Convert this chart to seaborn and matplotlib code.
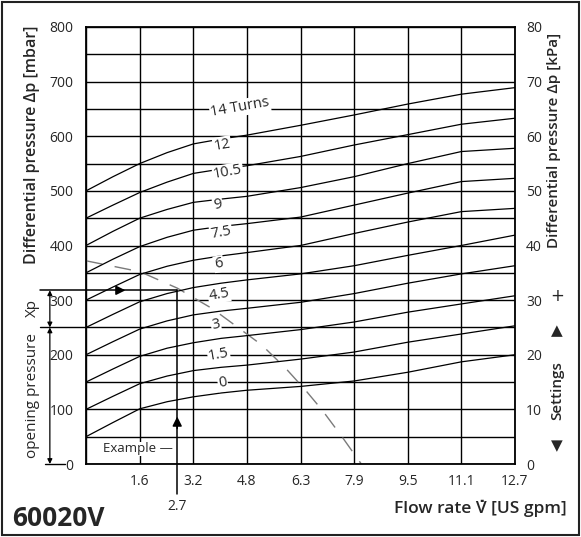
import pandas as pd
import matplotlib.pyplot as plt
import seaborn as sns

flow = [0, 0.8, 1.59, 2.4, 3.18, 4.0, 4.76, 6.35, 7.94, 9.53, 11.11, 12.7]

# differential pressure (mbar) per setting (turns)
dp_14 = [500, 526, 550, 570, 586, 595, 602, 620, 639, 659, 677, 689]
dp_12 = [450, 474, 497, 516, 532, 540, 546, 563, 584, 603, 622, 633]
dp_10_5 = [400, 426, 450, 466, 479, 485, 490, 506, 526, 550, 572, 578]
dp_9 = [350, 375, 398, 415, 428, 435, 440, 452, 474, 496, 517, 523]
dp_7_5 = [300, 324, 347, 362, 373, 381, 387, 400, 422, 443, 462, 468]
dp_6 = [250, 274, 297, 312, 323, 331, 337, 348, 363, 382, 400, 419]
dp_4_5 = [200, 224, 247, 262, 273, 280, 285, 296, 312, 331, 348, 363]
dp_3 = [150, 174, 197, 212, 222, 230, 235, 246, 260, 278, 293, 308]
dp_1_5 = [100, 124, 147, 161, 171, 177, 181, 192, 205, 223, 238, 253]
dp_0 = [50, 76, 101, 114, 123, 130, 135, 142, 152, 168, 187, 200]

settings = ["14", "12", "10.5", "9", "7.5", "6", "4.5", "3", "1.5", "0"]
curve_values = [dp_14, dp_12, dp_10_5, dp_9, dp_7_5, dp_6, dp_4_5, dp_3, dp_1_5, dp_0]
curve_labels = ["14 Turns", "12", "10.5", "9", "7.5", "6", "4.5", "3", "1.5", "0"]

# dashed system curve
sys_flow = [0, 1.6, 2.7, 3.75, 5.2, 5.9, 6.5, 7.0, 7.6, 8.15]
sys_dp = [372, 352, 322, 284, 218, 176, 135, 98, 48, 0]

# example reading
example_flow = 2.7
example_xp = 318
opening_pressure = 250

x_ticks = [12.7 * k / 8 for k in range(9)]
x_ticklabels = ["", "1.6", "3.2", "4.8", "6.3", "7.9", "9.5", "11.1", "12.7"]

# label placement (layout only)
label_x = [4.56, 4.03, 4.2, 3.9, 4.0, 3.93, 3.94, 3.85, 3.93, 4.05]
label_y = [652, 584, 534, 474, 423, 366, 310, 254, 200, 148]

sns.set_style("white")
plt.rcParams["font.family"] = ["Open Sans", "DejaVu Sans"]

W, H = 581, 537
fig = plt.figure(figsize=(W / 100, H / 100), dpi=100)
ax = fig.add_axes([86 / W, 1 - 464 / H, (515 - 86) / W, (464 - 27) / H])

df = pd.DataFrame({
    "flow": flow * len(settings),
    "dp": [v for vals in curve_values for v in vals],
    "setting": [s for s in settings for _ in flow],
})
sns.lineplot(data=df, x="flow", y="dp", hue="setting", palette={s: "black" for s in settings},
             legend=False, sort=False, lw=0.9, ax=ax, zorder=3)
sns.lineplot(x=sys_flow, y=sys_dp, color="#7a7a7a", lw=1.0, dashes=False,
             linestyle=(0, (12, 9)), ax=ax, zorder=2)

ax.set_xlim(0, 12.7)
ax.set_ylim(0, 800)
ax.set_xticks(x_ticks)
ax.set_xticklabels(x_ticklabels, fontsize=10)
ax.set_yticks(range(0, 801, 100))
ax.set_yticks(range(50, 800, 100), minor=True)
ax.set_yticklabels([str(v) for v in range(0, 801, 100)], fontsize=10)
ax.grid(True, which="both", color="black", lw=1.0)
ax.tick_params(axis="x", length=4, width=1, color="black", pad=3)
ax.tick_params(axis="y", which="both", length=0, pad=9)
ax.set_xlabel("")
ax.set_ylabel("")
for sp in ax.spines.values():
    sp.set_color("black")
    sp.set_linewidth(1.3)

ax2 = ax.twinx()
ax2.set_ylim(0, 80)
ax2.set_yticks(range(0, 81, 10))
ax2.set_yticklabels([str(v) for v in range(0, 81, 10)], fontsize=10)
ax2.tick_params(axis="y", length=0, pad=8)
for sp in ax2.spines.values():
    sp.set_visible(False)

# curve labels
for txt, lx, ly in zip(curve_labels, label_x, label_y):
    ax.text(lx, ly, txt, fontsize=10.5, rotation=10, ha="center", va="center", zorder=4,
            bbox=dict(facecolor="white", edgecolor="none", pad=0.6))

# example construction
ax.plot([example_flow, example_flow], [-55, example_xp], color="black", lw=1.1, clip_on=False, zorder=4)
ax.plot([-1.36, example_flow], [example_xp, example_xp], color="black", lw=1.1, clip_on=False, zorder=4)
ax.annotate("", xy=(example_flow, 92), xytext=(example_flow, 60),
            arrowprops=dict(arrowstyle="-|>", color="black", lw=1.1, mutation_scale=14), zorder=5)
ax.annotate("", xy=(1.25, example_xp), xytext=(0.85, example_xp),
            arrowprops=dict(arrowstyle="-|>", color="black", lw=1.1, mutation_scale=14), zorder=5)
ax.text(2.58, 28, "Example \u2014", fontsize=9.5, ha="right", va="center", zorder=5,
        bbox=dict(facecolor="white", edgecolor="none", pad=0.5))
ax.text(example_flow, -78, "2.7", fontsize=10, ha="center", va="center", clip_on=False)

# opening pressure / Xp dimensions
ax.plot([-1.36, 0], [opening_pressure, opening_pressure], color="black", lw=1.0, clip_on=False)
ax.plot([-1.22, -0.62], [0, 0], color="black", lw=1.0, clip_on=False)
ax.annotate("", xy=(-1.07, 0), xytext=(-1.07, opening_pressure), annotation_clip=False,
            arrowprops=dict(arrowstyle="<|-|>", color="black", lw=0.9, mutation_scale=7, shrinkA=0, shrinkB=0))
ax.annotate("", xy=(-1.07, opening_pressure), xytext=(-1.07, example_xp), annotation_clip=False,
            arrowprops=dict(arrowstyle="<|-|>", color="black", lw=0.9, mutation_scale=7, shrinkA=0, shrinkB=0))


def fx(px):
    return px / W


def fy(py):
    return 1 - py / H


fig.text(fx(32), fy(145), "Differential pressure \u0394p [mbar]", rotation=90, ha="center", va="center",
         fontsize=11.5, fontweight="semibold")
fig.text(fx(32), fy(395), "opening pressure", rotation=90, ha="center", va="center", fontsize=11)
fig.text(fx(32), fy(308), "Xp", rotation=90, ha="center", va="center", fontsize=11)
fig.text(fx(554), fy(140), "Differential pressure \u0394p [kPa]", rotation=90, ha="center", va="center",
         fontsize=11, fontweight="semibold")
fig.text(fx(557), fy(296), "+", ha="center", va="center", fontsize=12, family="DejaVu Sans")
fig.text(fx(557), fy(332), "\u25b2", ha="center", va="center", fontsize=11)
fig.text(fx(557), fy(391), "Settings", rotation=90, ha="center", va="center", fontsize=11,
         fontweight="semibold")
fig.text(fx(557), fy(447), "\u25bc", ha="center", va="center", fontsize=11)
fig.text(fx(567), fy(508), "Flow rate V\u0307 [US gpm]", ha="right", va="center", fontsize=12.5,
         fontweight="semibold")
fig.text(fx(12), fy(518), "60020V", ha="left", va="center", fontsize=19, fontweight="bold")

fig.patches.append(plt.Rectangle((fx(2), fy(535)), fx(577), 1 - fy(533), transform=fig.transFigure,
                                 fill=False, lw=1.5, edgecolor="#222222"))

fig.savefig("out.png", dpi=100)
